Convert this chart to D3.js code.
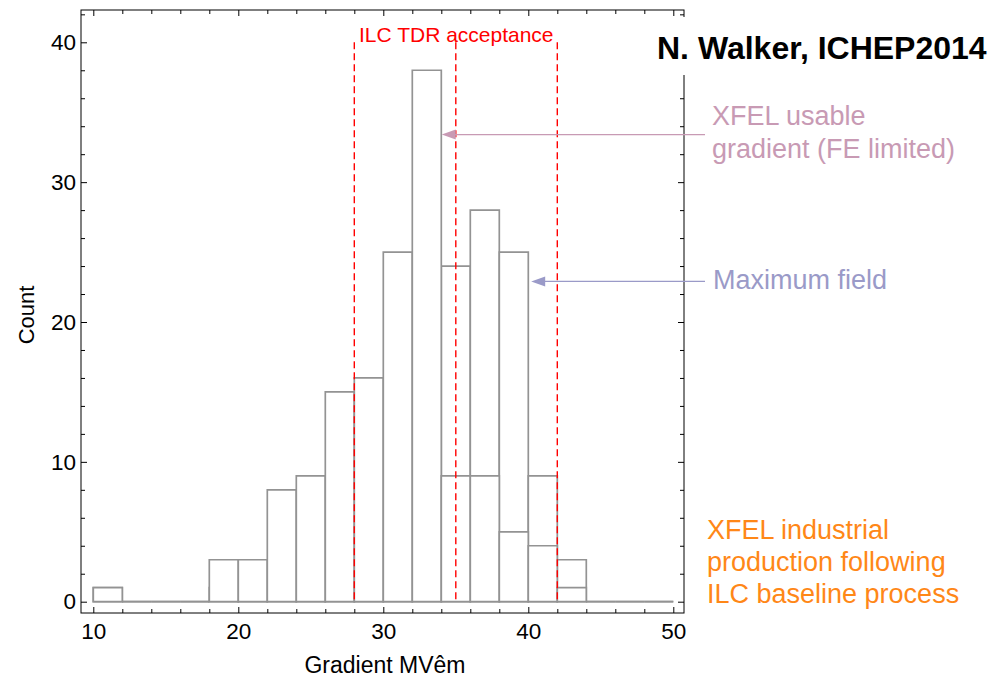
<!DOCTYPE html>
<html>
<head>
<meta charset="utf-8">
<script src="https://cdn.jsdelivr.net/npm/d3@7"></script>
<style>
  body { margin: 0; background: #fff; }
  svg { display: block; font-family: "Liberation Sans", Arial, sans-serif; }
</style>
</head>
<body>
<svg width="994" height="680"></svg>
<script>
'use strict';

// histogram bins, 2 MV/m wide
const binStarts = [10, 12, 14, 16, 18, 20, 22, 24, 26, 28, 30, 32, 34, 36, 38, 40, 42, 44, 46, 48];
const BIN_WIDTH = 2;
// XFEL usable gradient (drawn in front)
const usableCounts = [1, 0, 0, 0, 3, 3, 8, 9, 15, 16, 25, 38, 9, 9, 5, 4, 1, 0, 0, 0];
// maximum field (drawn behind, lower bins hidden by the front histogram)
const maxFieldCounts = [1, 0, 0, 0, 1, 2, 3, 4, 6, 8, 14, 18, 24, 28, 25, 9, 3, 0, 0, 0];

// ILC TDR acceptance window
const tdrLines = [28, 35, 42];
const TDR_TOP = 40;

const xTicks = [10, 20, 30, 40, 50];
const yTicks = [0, 10, 20, 30, 40];
const xMinor = [12, 14, 16, 18, 22, 24, 26, 28, 32, 34, 36, 38, 42, 44, 46, 48];
const yMinor = [2, 4, 6, 8, 12, 14, 16, 18, 22, 24, 26, 28, 32, 34, 36, 38, 42];

var svg = d3.select("svg");

var frame = {left: 81, right: 684, top: 10, bottom: 613};

var x = d3.scaleLinear().domain([10, 50]).range([93.3, 673.3]);
var y = d3.scaleLinear().domain([0, 40]).range([601.7, 42.3]);

// bars as closed paths so empty bins still show their base line
function barPath(d, i) {
    var x0 = x(binStarts[i]);
    var x1 = x(binStarts[i] + BIN_WIDTH);
    var y0 = y(0);
    var y1 = y(d);
    return "M" + x0 + "," + y0 + "V" + y1 + "H" + x1 + "V" + y0 + "Z";
}

function drawHist(counts) {
    svg.append("g")
        .selectAll("path")
        .data(counts)
        .enter()
        .append("path")
        .attr("d", barPath)
        .attr("fill", "#fff")
        .attr("stroke", "#939393")
        .attr("stroke-width", 1.7);
}

drawHist(maxFieldCounts);
drawHist(usableCounts);

// acceptance lines
svg.append("g")
    .selectAll("line")
    .data(tdrLines)
    .enter()
    .append("line")
    .attr("x1", function (d) { return x(d); })
    .attr("x2", function (d) { return x(d); })
    .attr("y1", y(TDR_TOP))
    .attr("y2", y(0))
    .attr("stroke", "#ff0000")
    .attr("stroke-width", 1.4)
    .attr("stroke-dasharray", "7,4");

svg.append("text")
    .attr("x", 359)
    .attr("y", 42)
    .attr("fill", "#ff0000")
    .attr("font-size", 21)
    .text("ILC TDR acceptance");

// frame + ticks
function axis(gen, tx, ty) {
    var g = svg.append("g")
        .attr("transform", "translate(" + tx + "," + ty + ")")
        .call(gen);
    g.select(".domain").remove();
    g.selectAll("line").attr("stroke", "#000");
    g.selectAll("text")
        .attr("fill", "#000")
        .attr("font-size", 22.5)
        .attr("font-family", "'Liberation Sans', Arial, sans-serif");
    return g;
}

axis(d3.axisBottom(x).tickValues(xTicks).tickSize(-6).tickSizeOuter(0).tickPadding(10), 0, frame.bottom);
axis(d3.axisBottom(x).tickValues(xMinor).tickSize(-4).tickSizeOuter(0).tickFormat(""), 0, frame.bottom);
axis(d3.axisTop(x).tickValues(xTicks).tickSize(-6).tickSizeOuter(0).tickFormat(""), 0, frame.top);
axis(d3.axisTop(x).tickValues(xMinor).tickSize(-4).tickSizeOuter(0).tickFormat(""), 0, frame.top);
axis(d3.axisLeft(y).tickValues(yTicks).tickSize(-6).tickSizeOuter(0).tickPadding(5), frame.left, 0);
axis(d3.axisLeft(y).tickValues(yMinor).tickSize(-4).tickSizeOuter(0).tickFormat(""), frame.left, 0);
axis(d3.axisRight(y).tickValues(yTicks).tickSize(-6).tickSizeOuter(0).tickFormat(""), frame.right, 0);
axis(d3.axisRight(y).tickValues(yMinor).tickSize(-4).tickSizeOuter(0).tickFormat(""), frame.right, 0);

svg.append("rect")
    .attr("x", frame.left)
    .attr("y", frame.top)
    .attr("width", frame.right - frame.left)
    .attr("height", frame.bottom - frame.top)
    .attr("fill", "none")
    .attr("stroke", "#000")
    .attr("stroke-width", 1);

// axis titles
svg.append("text")
    .attr("x", 385)
    .attr("y", 673)
    .attr("text-anchor", "middle")
    .attr("font-size", 23)
    .text("Gradient MVêm");

svg.append("text")
    .attr("transform", "translate(34,315) rotate(-90)")
    .attr("text-anchor", "middle")
    .attr("font-size", 22)
    .text("Count");

// title on white box
svg.append("rect")
    .attr("x", 650)
    .attr("y", 17)
    .attr("width", 344)
    .attr("height", 58)
    .attr("fill", "#fff");

svg.append("text")
    .attr("x", 657)
    .attr("y", 59)
    .attr("font-size", 32)
    .attr("font-weight", "bold")
    .text("N. Walker, ICHEP2014");

// arrows
var arrows = [
    {tip: [34.03, 33.4], tail: 705, color: "#c89ab4"},
    {tip: [40.2, 22.9], tail: 705, color: "#9a9ac8"}
];

arrows.forEach(function (a) {
    var tx = x(a.tip[0]);
    var ty = y(a.tip[1]);
    svg.append("line")
        .attr("x1", tx + 10)
        .attr("x2", a.tail)
        .attr("y1", ty)
        .attr("y2", ty)
        .attr("stroke", a.color)
        .attr("stroke-width", 1.3);
    svg.append("path")
        .attr("d", "M" + tx + "," + ty + "L" + (tx + 14) + "," + (ty - 5) + "L" + (tx + 14) + "," + (ty + 5) + "Z")
        .attr("fill", a.color);
});

function block(lines, x0, y0, dy, color) {
    var t = svg.append("text")
        .attr("fill", color)
        .attr("font-size", 27);
    lines.forEach(function (l, i) {
        t.append("tspan").attr("x", x0).attr("y", y0 + i * dy).text(l);
    });
}

block(["XFEL usable", "gradient (FE limited)"], 712, 125, 33, "#c89ab4");
block(["Maximum field"], 713, 289, 33, "#9a9ac8");
block(["XFEL industrial", "production following", "ILC baseline process"], 707, 539, 32, "#ff8717");
</script>
</body>
</html>
